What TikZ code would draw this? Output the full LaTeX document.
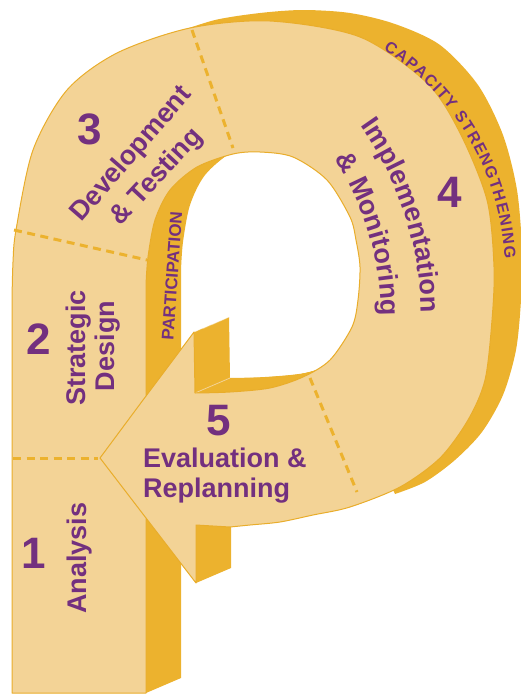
\documentclass[tikz,border=0pt]{standalone}
\usepackage{fontspec}
\setmainfont{Liberation Sans}
\usetikzlibrary{decorations.text}

\definecolor{facelight}{HTML}{F3D396}
\definecolor{facedark}{HTML}{ECB22E}
\definecolor{edgeline}{HTML}{E9AD2B}
\definecolor{purp}{HTML}{73307F}

% front outline of the letter: stem, bowl and the arrow shaft
\newcommand{\outerpath}{(12,693) -- plot[smooth] coordinates {(12,300) (13,262) (16,230) (33,150) (67,90) (117,53) (190,28) (270,21) (360,37) (427,83) (460,133) (487,200) (494,267) (492,320) (485,380) (468,420) (440,458) (400,487) (350,507) (313,515) (280,522) (250,525) (230,527)} -- (196,525) -- (196,583) -- (146,518) -- (146,693) -- cycle}
% counter of the bowl, closed by the upper barb of the arrow
\newcommand{\holepath}{(146,396) -- (194,332) -- plot[smooth] coordinates {(195,393) (230,392) (270,388) (303,377) (330,360) (352,327) (358,300) (360,267) (356,240) (350,217) (327,180) (293,157) (260,152) (233,154) (197,167) (170,190) (155,220) (148,257) (146,285)} -- cycle}

\tikzset{
  num/.style={text=purp, font=\bfseries\fontsize{44}{44}\selectfont, inner sep=0pt},
  lbl/.style={text=purp, font=\bfseries\fontsize{27}{30}\selectfont, inner sep=0pt},
  bandtext/.style={text=purp, font=\bfseries\fontsize{17}{17}\selectfont, inner sep=0pt},
  divider/.style={draw=facedark, line width=3pt, dash pattern=on 8pt off 5.5pt},
  edge/.style={draw=edgeline, line width=1pt, line join=round},
}

\begin{document}
\begin{tikzpicture}[x=1pt, y=-1pt]
\useasboundingbox (0,0) rectangle (521,694);

% depth band along the outer edge of the bowl
\fill[facedark] plot[smooth] coordinates {(175,33) (215,20) (260,13) (303,10) (350,13) (395,24) (440,45) (478,85) (503,135) (517,190) (522,250) (521,300) (516,350) (503,395) (482,432) (455,460) (425,482) (395,494)} -- (300,300) -- cycle;

% side face of the stem and back face of the lower barb
\fill[facedark] (146,500) -- (181,485) -- (181,678) -- (146,693) -- cycle;
\fill[facedark] (196,520) -- (231,505) -- (231,568) -- (196,583) -- cycle;

% inner walls seen through the counter
\begin{scope}
  \clip \holepath;
  \fill[white] (0,0) rectangle (521,694);
  \foreach \k in {1,...,36} {
    \fill[facedark, even odd rule, shift={(\k*35/36, -\k*15/36)}] (-60,-60) rectangle (600,760) \holepath;
  }
\end{scope}
\draw[facelight, line width=0.8pt] (195,393) -- (230,378);

% front face
\fill[facelight, even odd rule] \outerpath \holepath;
\draw[edge] \outerpath;
\draw[edge] \holepath;
\draw[edge] (146,396) -- (100,458) -- (146,518);

% stage dividers
\draw[divider] (13,458) -- (98,458);
\draw[divider] (14,230) -- (147,260);
\draw[divider] (192,30) -- (233,148);
\draw[divider] (310,378) -- (357,492);

% stage numbers
\node[num] (n1) at (34,553) {1};
\node[num] (n2) at (39,339) {2};
\node[num] (n3) at (90,129) {3};
\node[num] (n4) at (450,192) {4};
\node[num] (n5) at (219,421) {5};

% stage names
\node[lbl, rotate=90, anchor=base] (analysis) at (86,558) {Analysis};
\node[lbl, rotate=90, anchor=base] (strat) at (85,348) {Strategic};
\node[lbl, rotate=90, anchor=base] (design) at (114,346) {Design};
\node[lbl, rotate=49, anchor=base] (devel) at (137,159) {Development};
\node[lbl, rotate=47, anchor=base] (testing) at (162,182) {\& Testing};
\node[lbl, anchor=base west] (evalu) at (143,467) {Evaluation \&};
\node[lbl, anchor=base west] (replan) at (143,497) {Replanning};

\path[decorate, decoration={text along path, text color=purp, text align=center,
  text={|\bfseries\fontsize{27}{27}\selectfont|Implementation}}]
  (93,316) ++(-42:328) arc[start angle=-42, end angle=6, radius=328];
\path[decorate, decoration={text along path, text color=purp, text align=center,
  text={|\bfseries\fontsize{27}{27}\selectfont|{\&} Monitoring}}]
  (93,316) ++(-40:288) arc[start angle=-40, end angle=7, radius=288];

% cross-cutting themes
\node[bandtext, rotate=86] (particip) at (172,276) {PARTICIPATION};
\path[decorate, decoration={text along path, text color=purp, text align={fit to path},
  text={|\bfseries\fontsize{16}{16}\selectfont|CAPACITY STRENGTHENING}}]
  (238,273) ++(-57:267) arc[start angle=-57, end angle=-3, radius=267];
\end{tikzpicture}
\end{document}
